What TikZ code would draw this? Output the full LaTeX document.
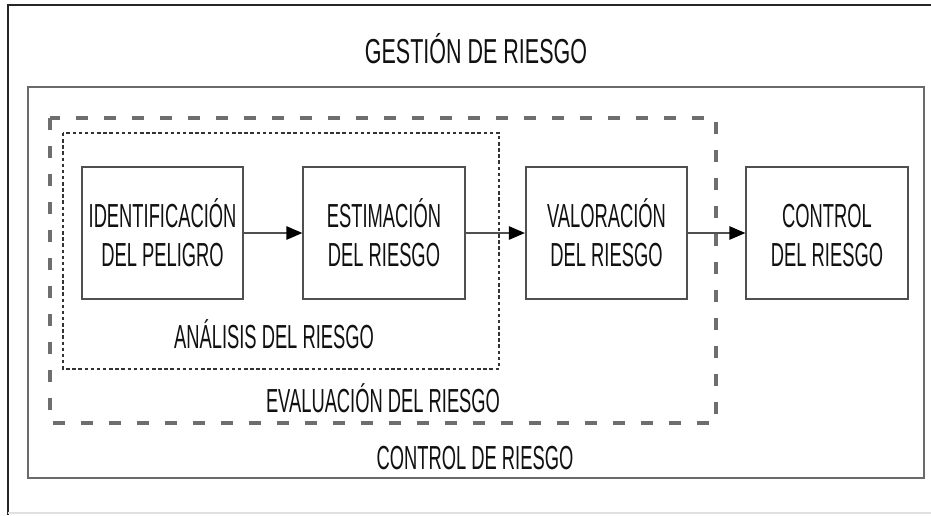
\documentclass[tikz,border=0pt]{standalone}
\usepackage{fontspec}
\newfontfamily\condfont[FakeStretch=0.55]{Liberation Sans}
\newfontfamily\condtitle[FakeStretch=0.62]{Liberation Sans}
\usetikzlibrary{arrows.meta}
\definecolor{txt}{HTML}{111111}
\definecolor{boxline}{HTML}{505050}
\definecolor{frameline}{HTML}{6A6A6A}
\definecolor{dashline}{HTML}{6E6E6E}
\definecolor{dotline}{HTML}{333333}
\tikzset{
  px/.style={x=0.75pt,y=-0.75pt},
  procbox/.style={draw=boxline,line width=1.4pt,minimum width=121pt,minimum height=99pt,
    inner sep=0pt,align=center,text=txt,font=\condfont\fontsize{25}{29.25}\selectfont},
  lbl/.style={anchor=base,inner sep=0pt,text=txt,font=\condfont\fontsize{25}{29.25}\selectfont},
  flow/.style={draw=boxline,line width=1.2pt,-{Triangle[length=12pt,width=10pt,color=black]}},
}
\begin{document}
\begin{tikzpicture}[px]
\useasboundingbox (0,0) rectangle (931,515);
\fill[white] (0,0) rectangle (931,515);
% outer frame
\draw[black!85,line width=1.6pt] (8,515) -- (8,5) -- (931,5);
\draw[black!12,line width=1pt] (8,513) -- (931,513);
% control de riesgo frame
\draw[frameline,line width=1.6pt] (28,87) rectangle (924,478);
% evaluacion dashed frame
\draw[dashline,line width=2.6pt,dash pattern=on 9pt off 12pt] (50,118) rectangle (716,423);
% analisis dotted frame
\draw[dotline,line width=1pt,dash pattern=on 2.6pt off 2pt] (63,133) rectangle (499,369);
% boxes
\node[procbox] (b1) at (162.5,233) {IDENTIFICACIÓN\\DEL PELIGRO};
\node[procbox] (b2) at (384,233) {ESTIMACIÓN\\DEL RIESGO};
\node[procbox] (b3) at (606.5,233) {VALORACIÓN\\DEL RIESGO};
\node[procbox] (b4) at (827,233) {\vphantom{Ó}CONTROL\\DEL RIESGO};
\draw[flow] (b1) -- (b2);
\draw[flow] (b2) -- (b3);
\draw[flow] (b3) -- (b4);
% labels
\node[lbl,font=\condtitle\fontsize{26}{30}\selectfont] (title) at (476,63) {GESTIÓN DE RIESGO};
\node[lbl] (analisis) at (274,348.5) {ANÁLISIS DEL RIESGO};
\node[lbl] (evaluacion) at (383,412.5) {EVALUACIÓN DEL RIESGO};
\node[lbl] (control) at (475,469) {CONTROL DE RIESGO};
\end{tikzpicture}
\end{document}
